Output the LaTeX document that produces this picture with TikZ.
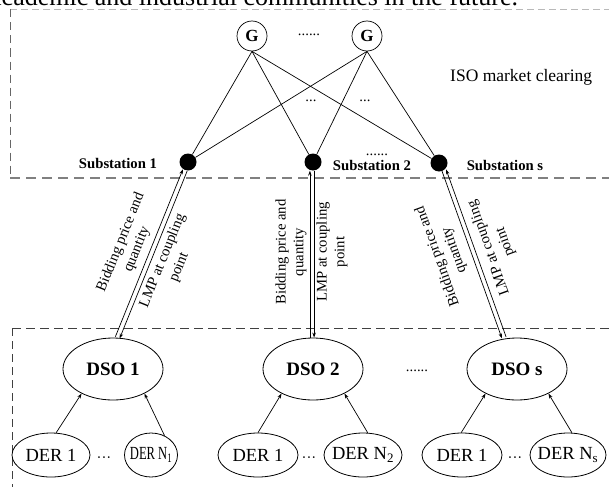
\documentclass[tikz,border=0pt]{standalone}
\usepackage{fontspec}
\usepackage{graphicx}
\setmainfont{Liberation Serif}
\usetikzlibrary{arrows.meta,calc,shapes.geometric}
\begin{document}
\begin{tikzpicture}[x=1pt,y=-1pt,
  every node/.style={inner sep=0pt},
  lbl/.style={font=\fontsize{14.7}{17.6}\selectfont, align=center},
  subdot/.style={circle, fill=black, minimum size=17pt},
  sublbl/.style={font=\fontsize{14.7}{17.6}\selectfont\bfseries, anchor=base},
  gen/.style={circle, draw, line width=0.7pt, minimum size=30pt, font=\fontsize{17}{20}\selectfont\bfseries},
  dso/.style={ellipse, draw, line width=0.8pt, minimum width=100pt, minimum height=62pt, font=\fontsize{19}{22}\selectfont\bfseries},
  der/.style={ellipse, draw, line width=0.8pt, minimum height=44pt, font=\fontsize{18.5}{22}\selectfont},
  link/.style={line width=0.7pt},
  arr/.style={line width=0.7pt, -{Stealth[length=5pt,width=3.5pt]}},
  dots/.style={font=\fontsize{14.7}{17.6}\selectfont, anchor=base},
  boxline/.style={line width=0.8pt}
]
\useasboundingbox (0,0) rectangle (609,487);
\begin{scope}
\clip (0,0) rectangle (609,487);
\node[anchor=base west, font=\fontsize{26}{30}\selectfont] (toptext) at (-10,5.5) {academic and industrial communities in the future.};
\end{scope}

% dashed boxes
\coordinate (tl) at (10,9.5);
\coordinate (tr) at (609,9.5);
\coordinate (bl) at (10,178);
\coordinate (br) at (609,178);
\draw[gray!55, line width=0.6pt, dash pattern=on 7pt off 4pt] (tl) -- (tr);
\draw[gray!80!black, line width=0.8pt, dash pattern=on 8pt off 5pt] (tl) -- (bl);
\draw[gray, line width=1.3pt, dash pattern=on 10pt off 6pt] (bl) -- (br);
\coordinate (ltl) at (12,328);
\coordinate (ltr) at (609,328);
\coordinate (lbl) at (12,487);
\draw[black!75, line width=0.8pt, dash pattern=on 9pt off 5pt] (ltl) -- (ltr);
\draw[black!75, line width=0.8pt, dash pattern=on 8pt off 5pt] (ltl) -- (lbl);

% generators
\node[gen] (g1) at (252,36) {G};
\node[gen] (g2) at (367,36) {G};
\node[dots] (gdots) at (309,35) {......};

\node[font=\fontsize{17.5}{21}\selectfont, anchor=base west] (iso) at (450,81) {ISO market clearing};

% substations
\node[subdot] (s1) at (188,162) {};
\node[subdot] (s2) at (313,162) {};
\node[subdot] (s3) at (439,163) {};
\node[sublbl] (s1l) at (118,168) {Substation 1};
\node[sublbl] (s2l) at (372,170) {Substation 2};
\node[sublbl] (s3l) at (505,170) {Substation s};
\node[dots] (sdots) at (377,155.5) {......};

\foreach \g in {g1,g2}{
  \foreach \s in {s1,s2,s3}{
    \draw[link] (\g.south) -- (\s);
  }
}
\node[dots] (m1) at (311,101) {...};
\node[dots] (m2) at (365,101) {...};

% DSOs
\node[dso] (dso1) at (113,369) {DSO 1};
\node[dso] (dso2) at (313,369) {DSO 2};
\node[dso] (dso3) at (517,369) {DSO s};
\node[dots] (ddots) at (417,371.5) {......};

% DERs
\node[der, minimum width=78pt] (der1a) at (51,455) {\makebox[0pt]{DER 1}};
\node[der, minimum width=53pt] (der1n) at (151,455) {\makebox[0pt]{\scalebox{0.68}[1]{DER N\textsubscript{1}}}};
\node[der, minimum width=80pt] (der2a) at (258,455) {\makebox[0pt]{DER 1}};
\node[der, minimum width=78pt] (der2n) at (363,455) {\makebox[0pt]{DER N\textsubscript{2}}};
\node[der, minimum width=80pt] (der3a) at (462,455) {\makebox[0pt]{DER 1}};
\node[der, minimum width=76pt] (der3n) at (568,455) {\makebox[0pt]{DER N\textsubscript{s}}};
\node[dots] (e1) at (104,462) {···};
\node[dots] (e2) at (309,462) {···};
\node[dots] (e3) at (515,462) {···};

\draw[arr] (der1a.77) -- (dso1.218);
\draw[arr] (der1n.55) -- (dso1.322);
\draw[arr] (der2a.90) -- (dso2.218);
\draw[arr] (der2n.78) -- (dso2.322);
\draw[arr] (der3a.92) -- (dso3.218);
\draw[arr] (der3n.80) -- (dso3.322);

% double links DSO <-> substation
\coordinate (p1) at ([xshift=4.5pt]dso1.north);
\coordinate (q1) at (s1.250);
\draw[arr] ($(p1)!2.3pt!90:(q1)$) -- ($(q1)!2.3pt!-90:(p1)$);
\draw[arr] ($(q1)!2.3pt!90:(p1)$) -- ($(p1)!2.3pt!-90:(q1)$);

\coordinate (p2) at ([xshift=-1pt]dso2.north);
\coordinate (q2) at ([xshift=-1pt]s2.south);
\draw[arr] ($(p2)!2.1pt!90:(q2)$) -- ($(q2)!2.1pt!-90:(p2)$);
\draw[arr] ($(q2)!2.1pt!90:(p2)$) -- ($(p2)!2.1pt!-90:(q2)$);

\coordinate (p3) at ([xshift=-13pt]dso3.north);
\coordinate (q3) at (s3.305);
\draw[arr] ($(q3)!2.2pt!-90:(p3)$) -- ($(p3)!2.2pt!90:(q3)$);
\draw[arr] ($(p3)!2.2pt!-90:(q3)$) -- ($(q3)!2.2pt!90:(p3)$);

% labels
\node[lbl, rotate=68] (t1a) at (129,246) {Bidding price and\\quantity};
\node[lbl, rotate=68] (t1b) at (171,264) {LMP at coupling\\point};
\node[lbl, rotate=90] (t2a) at (291,252) {Bidding price and\\quantity};
\node[lbl, rotate=90] (t2b) at (332,252) {LMP at coupling\\point};
\node[lbl, rotate=110] (t3a) at (446,253) {Bidding price and\\quantity};
\node[lbl, rotate=110] (t3b) at (497,245) {LMP at coupling\\point};
\end{tikzpicture}
\end{document}
